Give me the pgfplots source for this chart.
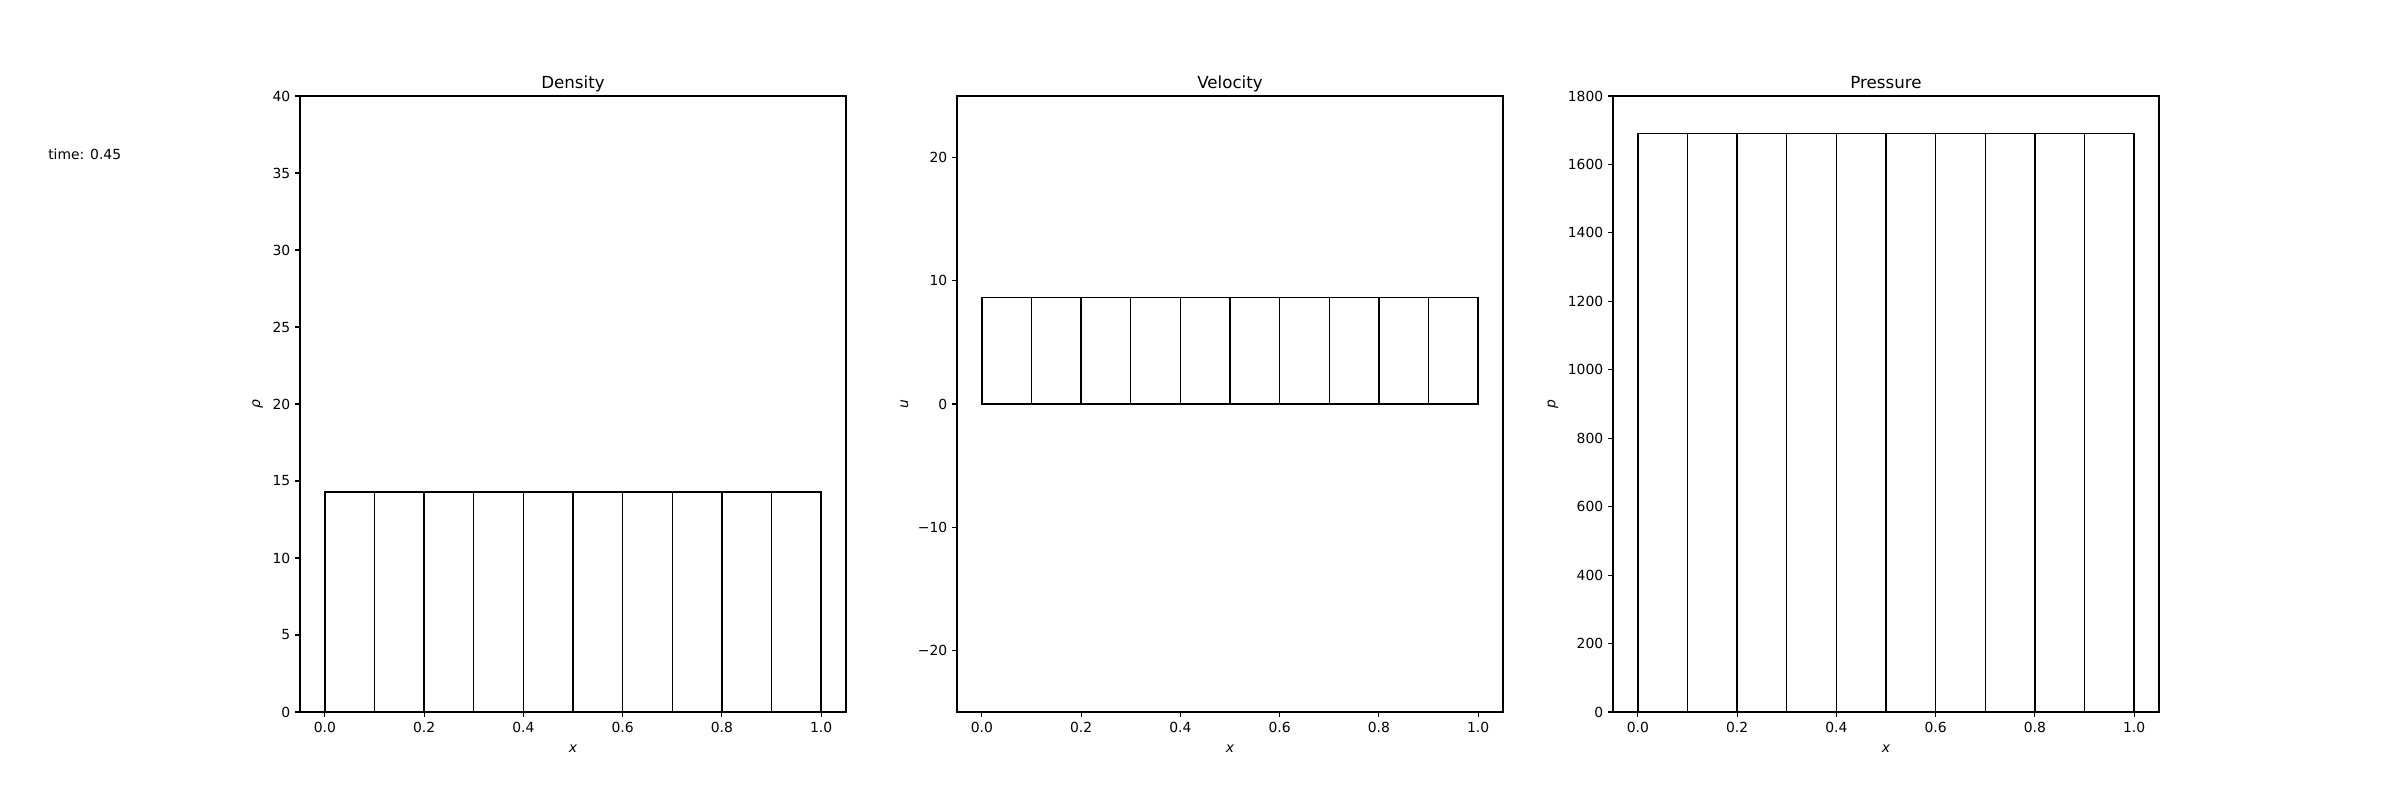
\documentclass[border=0pt]{standalone}
\usepackage{fontspec}
\setmainfont{DejaVu Sans}
\usepackage{pgfplots}
\pgfplotsset{compat=1.18}

% Cell-averaged state on 10 cells: left edges 0.0 ... 0.9, last row closes the last cell
\pgfplotstableread{
x    rho    u     p
0.0  14.29  8.65  1691
0.1  14.29  8.65  1691
0.2  14.29  8.65  1691
0.3  14.29  8.65  1691
0.4  14.29  8.65  1691
0.5  14.29  8.65  1691
0.6  14.29  8.65  1691
0.7  14.29  8.65  1691
0.8  14.29  8.65  1691
0.9  14.29  8.65  1691
1.0  14.29  8.65  1691
}\cells

\pgfplotsset{
  panel/.style={
    scale only axis, width=393.1pt, height=443.5pt,
    anchor=south west,
    xmin=-0.05, xmax=1.05,
    xtick={0,0.2,0.4,0.6,0.8,1},
    xticklabels={0.0,0.2,0.4,0.6,0.8,1.0},
    axis line style={line width=0.8pt},
    tick align=outside, xtick pos=bottom, ytick pos=left,
    major tick length=3.5pt,
    every tick/.style={black, line width=0.8pt},
    xlabel={\itshape x},
    xlabel style={yshift=-2pt},
    label style={font=\fontsize{10}{12}\selectfont},
    every axis title/.style={at={(0.5,1)}, anchor=base, yshift=5.5pt,
      font=\fontsize{12}{14}\selectfont},
    tick label style={font=\fontsize{10}{12}\selectfont},
    /pgf/number format/assume math mode=true,
    /pgf/number format/1000 sep={},
  },
  cellbars/.style={ybar interval, draw=black, fill=white, line width=1pt},
}

\begin{document}
\begin{tikzpicture}
\path[use as bounding box] (0,0) rectangle (1728pt,576pt);

\node[anchor=base west, inner sep=0pt, font=\fontsize{10}{12}\selectfont] at (34.56pt,460.8pt) {time: 0.45};

% Density
\begin{axis}[panel, at={(216pt,63.36pt)},
  title={Density}, ylabel={\itshape ρ},
  ymin=0, ymax=40, ytick={0,5,...,40}]
\addplot[cellbars] table[x=x, y=rho] {\cells};
\end{axis}

% Velocity
\begin{axis}[panel, at={(689.04pt,63.36pt)},
  title={Velocity}, ylabel={\itshape u},
  ymin=-25, ymax=25, ytick={-20,-10,0,10,20},
  yticklabels={−20,−10,0,10,20}]
\addplot[cellbars] table[x=x, y=u] {\cells};
\end{axis}

% Pressure
\begin{axis}[panel, at={(1161.36pt,63.36pt)},
  title={Pressure}, ylabel={\itshape p},
  ymin=0, ymax=1800, ytick={0,200,...,1800}]
\addplot[cellbars] table[x=x, y=p] {\cells};
\end{axis}
\end{tikzpicture}
\end{document}
